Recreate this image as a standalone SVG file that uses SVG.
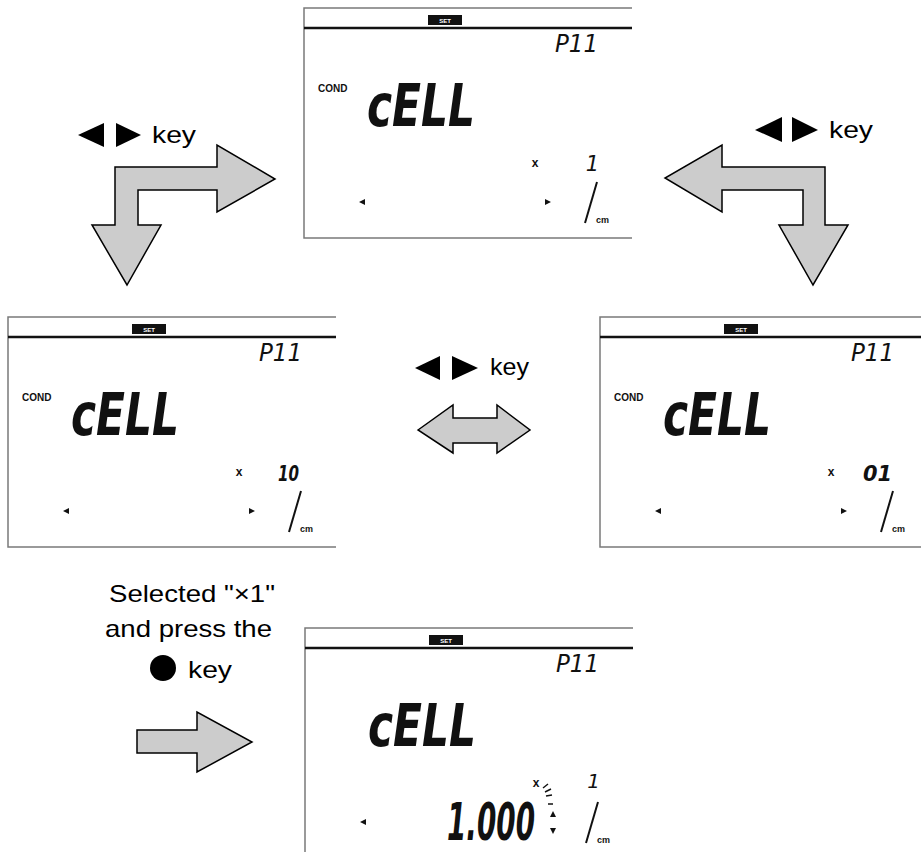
<svg xmlns="http://www.w3.org/2000/svg" width="921" height="852" viewBox="0 0 921 852">
<style>
.frame{fill:#fff;stroke:#7a7a7a;stroke-width:1.5}
.bar{stroke:#111;stroke-width:2.5}
.set{font-family:"Liberation Sans",Arial,sans-serif;font-size:6px;font-weight:bold;fill:#fff;text-anchor:middle}
.seg{font-family:"DejaVu Sans","Liberation Sans",sans-serif;font-weight:bold;font-style:italic;fill:#111}
.segt{font-family:"DejaVu Sans","Liberation Sans",sans-serif;font-weight:normal;font-style:italic;fill:#111}
.small{font-family:"Liberation Sans",Arial,sans-serif;font-weight:bold;fill:#111}
.lbl{font-family:"Liberation Sans",Arial,sans-serif;font-size:24px;fill:#000}
.arrow{fill:#cccccc;stroke:#000;stroke-width:1.5;stroke-linejoin:miter}
.slash{stroke:#111;stroke-width:2}
</style>
<defs>
<g id="frame">
<path class="frame" d="M328,0 H0 V230 H328"/>
<line class="bar" x1="0" y1="20" x2="328" y2="20"/>
<rect x="124" y="7" width="34" height="10" fill="#111"/>
<text class="set" x="141" y="14.5">SET</text>
</g>
<g id="common">
<text class="segt" x="251" y="44" font-size="24" textLength="43" lengthAdjust="spacingAndGlyphs">P11</text>
<text class="seg" x="63" y="118" font-size="58" textLength="108" lengthAdjust="spacingAndGlyphs">cELL</text>
<text class="small" x="231" y="159" font-size="12" text-anchor="middle">x</text>
<line class="slash" x1="293" y1="174" x2="281" y2="215"/>
<text class="small" x="292" y="215" font-size="9">cm</text>
<polygon points="55,194 61,191 61,197" fill="#111"/>
</g>
</defs>

<g id="connectors">
<g id="arrow-top-left">
<polygon class="arrow" points="115,167 217,167 217,145 275,179 217,212 217,190 138,190 138,225 161,225 127,285 92,225 115,225"/>
<polygon points="78,135 104,123 104,147" fill="#000"/>
<polygon points="116,123 141,135 116,147" fill="#000"/>
<text class="lbl" x="152" y="143" textLength="44" lengthAdjust="spacingAndGlyphs">key</text>
</g>
<g id="arrow-top-right">
<polygon class="arrow" points="825,167 722,167 722,145 665,178 722,212 722,190 803,190 803,225 779,225 813,285 848,225 825,225"/>
<polygon points="755,130 782,117 782,142" fill="#000"/>
<polygon points="792,117 818,130 792,142" fill="#000"/>
<text class="lbl" x="829" y="138" textLength="44" lengthAdjust="spacingAndGlyphs">key</text>
</g>
<g id="arrow-middle">
<polygon class="arrow" points="418,430 453,405 453,418 497,418 497,405 530,430 497,453 497,443 453,443 453,453"/>
<polygon points="415,368 440,356 440,380" fill="#000"/>
<polygon points="452,356 478,368 452,380" fill="#000"/>
<text class="lbl" x="490" y="375" font-size="22" textLength="39" lengthAdjust="spacingAndGlyphs">key</text>
</g>
<g id="arrow-bottom">
<text class="lbl" x="192" y="602" text-anchor="middle" textLength="166" lengthAdjust="spacingAndGlyphs">Selected "×1"</text>
<text class="lbl" x="188.5" y="637" text-anchor="middle" textLength="167" lengthAdjust="spacingAndGlyphs">and press the</text>
<circle cx="163" cy="668" r="13" fill="#000"/>
<text class="lbl" x="188" y="678" textLength="44" lengthAdjust="spacingAndGlyphs">key</text>
<polygon class="arrow" points="137,730 197,730 197,712 252,742 197,772 197,753 137,753"/>
</g>
</g>

<g id="lcd-top" transform="translate(304,8)">
<use href="#frame"/>
<use href="#common"/>
<text class="small" x="14" y="84" font-size="10">COND</text>
<text class="segt" x="295" y="163" font-size="21" text-anchor="end">1</text>
<polygon points="247,194 241,191 241,197" fill="#111"/>
</g>

<g id="lcd-left" transform="translate(8,317)">
<use href="#frame"/>
<use href="#common"/>
<text class="small" x="14" y="84" font-size="10">COND</text>
<text class="seg" x="291" y="164" font-size="22" text-anchor="end" textLength="21" lengthAdjust="spacingAndGlyphs">10</text>
<polygon points="247,194 241,191 241,197" fill="#111"/>
</g>

<g id="lcd-right" transform="translate(600,317)">
<use href="#frame"/>
<use href="#common"/>
<text class="small" x="14" y="84" font-size="10">COND</text>
<text class="seg" x="292" y="164" font-size="22" text-anchor="end" textLength="29" lengthAdjust="spacingAndGlyphs">01</text>
<polygon points="247,194 241,191 241,197" fill="#111"/>
</g>

<g id="lcd-bottom" transform="translate(305,628)">
<use href="#frame"/>
<use href="#common"/>
<text class="segt" x="295" y="160" font-size="20" text-anchor="end">1</text>
<text class="seg" x="142" y="212" font-size="52" textLength="88" lengthAdjust="spacingAndGlyphs">1.000</text>
<g stroke="#111" stroke-width="1.5">
<line x1="238" y1="160" x2="243" y2="156"/>
<line x1="240" y1="164" x2="246" y2="161"/>
<line x1="241" y1="168" x2="247" y2="167"/>
<line x1="243" y1="176" x2="248" y2="176"/>
</g>
<polygon points="245,189 248,183 251,189" fill="#111"/>
<polygon points="245,200 251,200 248,206" fill="#111"/>
</g>
</svg>
